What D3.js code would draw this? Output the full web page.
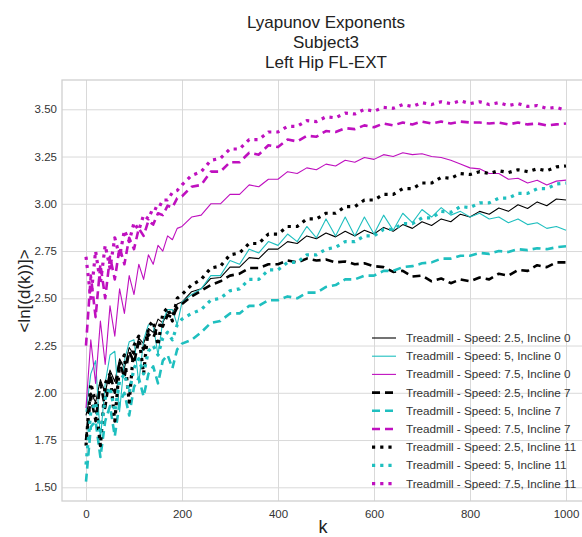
<!DOCTYPE html>
<html>
<head>
<meta charset="utf-8">
<script src="https://cdnjs.cloudflare.com/ajax/libs/d3/7.8.5/d3.min.js"></script>
<style>
  body { margin: 0; background: #fff; }
  text { font-family: "Liberation Sans", Arial, sans-serif; }
</style>
</head>
<body>
<script>
// lag values (k)
var ks = [0, 10, 20, 30, 40, 50, 60, 70, 80, 90, 100, 110, 120, 130, 140, 150, 160, 170, 180, 190, 200,
  220, 240, 260, 280, 300, 320, 340, 360, 380, 400, 420, 440, 460, 480, 500, 520, 540, 560, 580, 600,
  620, 640, 660, 680, 700, 720, 740, 760, 780, 800, 820, 840, 860, 880, 900, 920, 940, 960, 980, 1000];

// Speed 2.5 / 5 / 7.5, Incline 0
var s25i0 = [1.88, 2.0, 1.95, 2.07, 2.0, 2.12, 2.06, 2.18, 2.13, 2.24, 2.2, 2.29, 2.26, 2.34, 2.32, 2.39, 2.37, 2.43, 2.42, 2.47, 2.48,
  2.535, 2.55, 2.605, 2.61, 2.665, 2.665, 2.715, 2.71, 2.76, 2.76, 2.80, 2.79, 2.83, 2.815, 2.845, 2.825, 2.855, 2.83, 2.86, 2.84,
  2.875, 2.855, 2.89, 2.87, 2.905, 2.885, 2.92, 2.905, 2.945, 2.93, 2.96, 2.945, 2.978, 2.96, 2.995, 2.975, 3.01, 2.99, 3.025, 3.02];
var s5i0 = [1.9, 2.1, 2.17, 1.75, 2.05, 2.2, 2.22, 1.9, 2.17, 2.27, 2.28, 2.05, 2.28, 2.36, 2.36, 2.2, 2.38, 2.44, 2.44, 2.36, 2.48,
  2.52, 2.55, 2.62, 2.62, 2.70, 2.68, 2.76, 2.74, 2.80, 2.78, 2.84, 2.80, 2.88, 2.82, 2.92, 2.83, 2.93, 2.83, 2.93, 2.84,
  2.94, 2.86, 2.95, 2.90, 2.97, 2.93, 2.98, 2.94, 2.96, 2.93, 2.95, 2.92, 2.93, 2.90, 2.92, 2.89, 2.90, 2.87, 2.88, 2.86];
var s75i0 = [1.92, 2.28, 2.05, 2.38, 2.15, 2.46, 2.3, 2.55, 2.42, 2.62, 2.52, 2.68, 2.6, 2.73, 2.68, 2.78, 2.75, 2.83, 2.81, 2.87, 2.88,
  2.93, 2.94, 3.00, 3.00, 3.05, 3.05, 3.10, 3.09, 3.13, 3.13, 3.17, 3.16, 3.19, 3.18, 3.21, 3.20, 3.23, 3.22, 3.245, 3.235,
  3.26, 3.25, 3.27, 3.26, 3.265, 3.25, 3.245, 3.23, 3.21, 3.19, 3.185, 3.16, 3.16, 3.13, 3.135, 3.11, 3.125, 3.10, 3.12, 3.125];

// Incline 7
var s25i7 = [1.75, 1.98, 1.85, 2.05, 1.92, 2.1, 2.0, 2.16, 2.08, 2.22, 2.16, 2.27, 2.23, 2.31, 2.29, 2.36, 2.35, 2.41, 2.4, 2.45, 2.47,
  2.51, 2.54, 2.57, 2.59, 2.62, 2.63, 2.66, 2.66, 2.68, 2.68, 2.70, 2.69, 2.71, 2.70, 2.705, 2.69, 2.695, 2.68, 2.685, 2.67,
  2.665, 2.64, 2.645, 2.615, 2.62, 2.59, 2.605, 2.58, 2.60, 2.59, 2.61, 2.60, 2.63, 2.62, 2.65, 2.645, 2.675, 2.665, 2.69, 2.69];
var s5i7 = [1.53, 1.82, 1.85, 1.66, 1.85, 1.93, 1.77, 1.95, 2.0, 1.88, 2.03, 2.08, 1.98, 2.1, 2.14, 2.05, 2.17, 2.2, 2.13, 2.23, 2.26,
  2.28, 2.32, 2.37, 2.38, 2.42, 2.42, 2.46, 2.46, 2.49, 2.49, 2.51, 2.50, 2.53, 2.53, 2.56, 2.57, 2.60, 2.60, 2.62, 2.62,
  2.645, 2.645, 2.665, 2.67, 2.685, 2.69, 2.71, 2.71, 2.725, 2.725, 2.74, 2.735, 2.75, 2.745, 2.76, 2.755, 2.765, 2.76, 2.77, 2.775];
var s75i7 = [2.25, 2.62, 2.4, 2.68, 2.5, 2.72, 2.6, 2.77, 2.68, 2.82, 2.76, 2.87, 2.83, 2.91, 2.89, 2.95, 2.94, 2.99, 2.98, 3.03, 3.04,
  3.09, 3.10, 3.17, 3.17, 3.22, 3.22, 3.27, 3.26, 3.31, 3.30, 3.34, 3.33, 3.36, 3.355, 3.385, 3.38, 3.40, 3.395, 3.415, 3.405,
  3.425, 3.415, 3.43, 3.42, 3.435, 3.425, 3.435, 3.425, 3.435, 3.43, 3.43, 3.425, 3.43, 3.42, 3.43, 3.42, 3.425, 3.415, 3.42, 3.425];

// Incline 11
var s25i11 = [1.72, 2.05, 1.95, 1.72, 2.05, 2.1, 1.85, 2.15, 2.2, 1.95, 2.25, 2.3, 2.1, 2.35, 2.38, 2.25, 2.42, 2.45, 2.38, 2.5, 2.52,
  2.57, 2.60, 2.66, 2.67, 2.73, 2.74, 2.79, 2.79, 2.84, 2.84, 2.88, 2.88, 2.92, 2.92, 2.95, 2.95, 2.985, 2.985, 3.02, 3.02,
  3.05, 3.05, 3.08, 3.08, 3.11, 3.11, 3.14, 3.135, 3.16, 3.155, 3.17, 3.16, 3.175, 3.165, 3.18, 3.17, 3.185, 3.175, 3.195, 3.20];
var s5i11 = [1.62, 1.9, 1.95, 1.78, 1.97, 2.03, 1.9, 2.06, 2.1, 2.0, 2.13, 2.18, 2.1, 2.22, 2.25, 2.2, 2.29, 2.32, 2.28, 2.36, 2.39,
  2.42, 2.44, 2.49, 2.50, 2.54, 2.55, 2.60, 2.60, 2.65, 2.65, 2.69, 2.69, 2.73, 2.73, 2.76, 2.77, 2.80, 2.80, 2.83, 2.83,
  2.865, 2.865, 2.895, 2.895, 2.925, 2.925, 2.96, 2.955, 2.985, 2.98, 3.005, 3.005, 3.03, 3.03, 3.055, 3.055, 3.08, 3.08, 3.105, 3.11];
var s75i11 = [2.72, 2.5, 2.75, 2.58, 2.78, 2.66, 2.82, 2.72, 2.86, 2.8, 2.9, 2.86, 2.94, 2.92, 2.98, 2.97, 3.02, 3.02, 3.06, 3.07, 3.1,
  3.15, 3.17, 3.23, 3.24, 3.29, 3.29, 3.34, 3.34, 3.38, 3.38, 3.41, 3.41, 3.44, 3.435, 3.46, 3.455, 3.48, 3.475, 3.50, 3.49,
  3.51, 3.505, 3.525, 3.515, 3.535, 3.525, 3.54, 3.53, 3.545, 3.53, 3.54, 3.525, 3.535, 3.52, 3.53, 3.515, 3.52, 3.505, 3.51, 3.495];

var labels = ["Treadmill - Speed: 2.5, Incline 0", "Treadmill - Speed: 5, Incline 0", "Treadmill - Speed: 7.5, Incline 0",
  "Treadmill - Speed: 2.5, Incline 7", "Treadmill - Speed: 5, Incline 7", "Treadmill - Speed: 7.5, Incline 7",
  "Treadmill - Speed: 2.5, Incline 11", "Treadmill - Speed: 5, Incline 11", "Treadmill - Speed: 7.5, Incline 11"];
var xTicks = [0, 200, 400, 600, 800, 1000];
var yTicks = [1.5, 1.75, 2.0, 2.25, 2.5, 2.75, 3.0, 3.25, 3.5];

var allSeries = [s25i0, s5i0, s75i0, s25i7, s5i7, s75i7, s25i11, s5i11, s75i11];
var colors = ["#000000", "#1fbfbf", "#bf10bf"];
// solid / dashed / dotted per incline
var styles = [
  {width: 1.1, dash: null},
  {width: 2.6, dash: "8,5"},
  {width: 3.2, dash: "3.2,5"}
];

var W = 582, H = 537;

var svg = d3.select("body").append("svg")
  .attr("width", W)
  .attr("height", H);

var x = d3.scaleLinear().domain([-50, 1050]).range([62, 590]);
var y = d3.scaleLinear().domain([1.4275, 3.655]).range([501, 80]);

// grid + tick labels
svg.append("g")
  .attr("transform", "translate(0,501)")
  .call(d3.axisBottom(x).tickValues(xTicks).tickSize(-421).tickPadding(9).tickFormat(d3.format("d")))
  .call(function(g) {
    g.select(".domain").remove();
    g.selectAll("line").attr("stroke", "#d9d9d9").attr("stroke-width", 1);
    g.selectAll("text").attr("fill", "#333").attr("font-size", 11.5)
      .attr("font-family", "Liberation Sans, Arial, sans-serif");
  });

svg.append("g")
  .attr("transform", "translate(62,0)")
  .call(d3.axisLeft(y).tickValues(yTicks).tickSize(-528).tickPadding(5).tickFormat(d3.format(".2f")))
  .call(function(g) {
    g.select(".domain").remove();
    g.selectAll("line").attr("stroke", "#d9d9d9").attr("stroke-width", 1);
    g.selectAll("text").attr("fill", "#333").attr("font-size", 11.5)
      .attr("font-family", "Liberation Sans, Arial, sans-serif");
  });

// frame
svg.append("rect")
  .attr("x", 62).attr("y", 80)
  .attr("width", 528).attr("height", 421)
  .attr("fill", "none")
  .attr("stroke", "#d0d0d0")
  .attr("stroke-width", 1.3);

svg.append("clipPath").attr("id", "clip")
  .append("rect").attr("x", 62).attr("y", 80).attr("width", 528).attr("height", 421);

var line = d3.line()
  .x(function(d) { return x(d[0]); })
  .y(function(d) { return y(d[1]); });

var plot = svg.append("g").attr("clip-path", "url(#clip)");

allSeries.forEach(function(vals, i) {
  var st = styles[Math.floor(i / 3)];
  plot.append("path")
    .datum(ks.map(function(k, j) { return [k, vals[j]]; }))
    .attr("fill", "none")
    .attr("stroke", colors[i % 3])
    .attr("stroke-width", st.width)
    .attr("stroke-dasharray", st.dash)
    .attr("stroke-linejoin", "round")
    .attr("d", line);
});

// legend
var legend = svg.append("g").attr("transform", "translate(372,338)");
labels.forEach(function(lab, i) {
  var st = styles[Math.floor(i / 3)];
  var row = legend.append("g").attr("transform", "translate(0," + (i * 18.2) + ")");
  row.append("line")
    .attr("x1", 0).attr("x2", 24)
    .attr("stroke", colors[i % 3])
    .attr("stroke-width", st.width)
    .attr("stroke-dasharray", st.dash);
  row.append("text")
    .attr("x", 34).attr("y", 4)
    .attr("font-size", 11.7)
    .attr("fill", "#333")
    .text(lab);
});

// titles
var title = ["Lyapunov Exponents", "Subject3", "Left Hip FL-EXT"];
title.forEach(function(t, i) {
  svg.append("text")
    .attr("x", 326)
    .attr("y", 28 + i * 20)
    .attr("text-anchor", "middle")
    .attr("font-size", 17)
    .attr("fill", "#222")
    .text(t);
});

svg.append("text")
  .attr("x", 323).attr("y", 533)
  .attr("text-anchor", "middle")
  .attr("font-size", 18)
  .attr("fill", "#222")
  .text("k");

svg.append("text")
  .attr("transform", "translate(30,291) rotate(-90)")
  .attr("text-anchor", "middle")
  .attr("font-size", 17)
  .attr("fill", "#222")
  .text("<ln[(d(k))]>");
</script>
</body>
</html>
